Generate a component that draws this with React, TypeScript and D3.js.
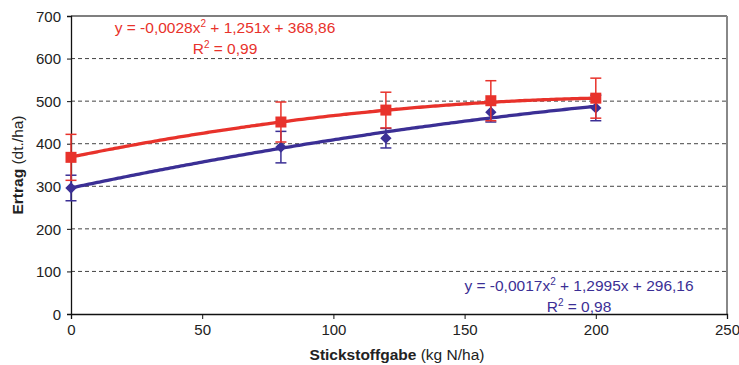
import React, { useEffect, useRef } from 'react';
import * as d3 from 'd3';

// Stickstoffgabe (kg N/ha)
const doses = [0, 80, 120, 160, 200];
// Ertrag (dt./ha), mean and error per dose
const redMeans = [368, 451, 479, 501, 507];
const redErr = [54, 47, 42, 47, 47];
const blueMeans = [296, 392, 413, 474, 484];
const blueErr = [30, 37, 23, 23, 30];
// trend line coefficients [a, b, c] for y = a x^2 + b x + c
const redCoef = [-0.0028, 1.251, 368.86];
const blueCoef = [-0.0017, 1.2995, 296.16];

const xTicks = [0, 50, 100, 150, 200, 250];
const yTicks = [0, 100, 200, 300, 400, 500, 600, 700];
const gridTicks = [100, 200, 300, 400, 500, 600];

const RED = '#e8322b';
const BLUE = '#3b2f95';

const App = () => {
  const ref = useRef<SVGSVGElement | null>(null);

  useEffect(() => {
    const svg = d3.select(ref.current);
    svg.selectAll('*').remove();
    const font = '"Liberation Sans", Arial, sans-serif';

    const x = d3.scaleLinear().domain([0, 250]).range([71, 727]);
    const y = d3.scaleLinear().domain([0, 700]).range([314, 16]);

    // grid
    svg.append('g')
      .selectAll('line')
      .data(gridTicks)
      .enter()
      .append('line')
      .attr('x1', x(0)).attr('x2', x(250))
      .attr('y1', d => y(d)).attr('y2', d => y(d))
      .attr('stroke', '#444')
      .attr('stroke-width', 1)
      .attr('stroke-dasharray', '4,3');

    // frame: top and right
    svg.append('line')
      .attr('x1', x(0)).attr('x2', x(250)).attr('y1', y(700)).attr('y2', y(700))
      .attr('stroke', '#555').attr('stroke-width', 1.3);
    svg.append('line')
      .attr('x1', x(250)).attr('x2', x(250)).attr('y1', y(700)).attr('y2', y(0))
      .attr('stroke', '#888').attr('stroke-width', 2);

    // axes
    const xAxis = svg.append('g')
      .attr('transform', `translate(0,${y(0)})`)
      .call(d3.axisBottom(x).tickValues(xTicks).tickSize(5).tickPadding(5));
    const yAxis = svg.append('g')
      .attr('transform', `translate(${x(0)},0)`)
      .call(d3.axisLeft(y).tickValues(yTicks).tickSize(4).tickPadding(6));
    [xAxis, yAxis].forEach(a => {
      a.selectAll('path').attr('stroke', '#111').attr('stroke-width', 1.3);
      a.selectAll('line').attr('stroke', '#111');
      a.selectAll('text')
        .attr('font-family', font)
        .attr('font-size', 15)
        .attr('fill', '#222');
    });
    yAxis.selectAll('text').attr('dy', '0.35em');

    const curve = (coef: number[]) =>
      d3.range(0, 201, 2).map(v => [v, coef[0] * v * v + coef[1] * v + coef[2]]);

    const line = d3.line<number[]>()
      .x(d => x(d[0]))
      .y(d => y(d[1]))
      .curve(d3.curveMonotoneX);

    const drawErr = (means: number[], err: number[], color: string) => {
      const g = svg.append('g').attr('stroke', color).attr('stroke-width', 1.5);
      doses.forEach((d, i) => {
        g.append('line')
          .attr('x1', x(d)).attr('x2', x(d))
          .attr('y1', y(means[i] - err[i])).attr('y2', y(means[i] + err[i]));
        [means[i] - err[i], means[i] + err[i]].forEach(v => {
          g.append('line')
            .attr('x1', x(d) - 5.5).attr('x2', x(d) + 5.5)
            .attr('y1', y(v)).attr('y2', y(v));
        });
      });
    };

    // blue series
    drawErr(blueMeans, blueErr, BLUE);
    svg.append('path')
      .datum(curve(blueCoef))
      .attr('d', line)
      .attr('fill', 'none')
      .attr('stroke', BLUE)
      .attr('stroke-width', 3.3);
    svg.append('g')
      .selectAll('path')
      .data(doses)
      .enter()
      .append('path')
      .attr('d', d3.symbol(d3.symbolSquare, 64)())
      .attr('transform', (d, i) => `translate(${x(d)},${y(blueMeans[i])}) rotate(45)`)
      .attr('fill', BLUE);

    // red series
    drawErr(redMeans, redErr, RED);
    svg.append('path')
      .datum(curve(redCoef))
      .attr('d', line)
      .attr('fill', 'none')
      .attr('stroke', RED)
      .attr('stroke-width', 3.3);
    svg.append('g')
      .selectAll('rect')
      .data(doses)
      .enter()
      .append('rect')
      .attr('x', d => x(d) - 5.5)
      .attr('y', (d, i) => y(redMeans[i]) - 5.5)
      .attr('width', 11)
      .attr('height', 11)
      .attr('fill', RED);

    // equations
    const eq = (cx: number, cy: number, color: string, parts: string[], r2: string) => {
      const t = svg.append('text')
        .attr('x', cx).attr('y', cy)
        .attr('text-anchor', 'middle')
        .attr('font-family', font)
        .attr('font-size', 15.5)
        .attr('fill', color);
      t.append('tspan').text(parts[0]);
      t.append('tspan').attr('dy', -6).attr('font-size', 10).text('2');
      t.append('tspan').attr('dy', 6).text(parts[1]);
      const r = svg.append('text')
        .attr('x', cx).attr('y', cy + 21)
        .attr('text-anchor', 'middle')
        .attr('font-family', font)
        .attr('font-size', 15.5)
        .attr('fill', color);
      r.append('tspan').text('R');
      r.append('tspan').attr('dy', -6).attr('font-size', 10).text('2');
      r.append('tspan').attr('dy', 6).text(r2);
    };
    eq(225, 33, RED, ['y = -0,0028x', ' + 1,251x + 368,86'], ' = 0,99');
    eq(579, 291, BLUE, ['y = -0,0017x', ' + 1,2995x + 296,16'], ' = 0,98');

    // axis titles
    const xt = svg.append('text')
      .attr('x', 397).attr('y', 360)
      .attr('text-anchor', 'middle')
      .attr('font-family', font)
      .attr('font-size', 15.5)
      .attr('fill', '#222');
    xt.append('tspan').attr('font-weight', 'bold').text('Stickstoffgabe');
    xt.append('tspan').text(' (kg N/ha)');

    const yt = svg.append('text')
      .attr('transform', 'translate(23,165) rotate(-90)')
      .attr('text-anchor', 'middle')
      .attr('font-family', font)
      .attr('font-size', 15.5)
      .attr('fill', '#222');
    yt.append('tspan').attr('font-weight', 'bold').text('Ertrag');
    yt.append('tspan').text(' (dt./ha)');
  }, []);

  return (
    <svg
      ref={ref}
      width={739}
      height={365}
      style={{ position: 'absolute', left: 0, top: 0, background: '#fff' }}
    />
  );
};

export default App;
